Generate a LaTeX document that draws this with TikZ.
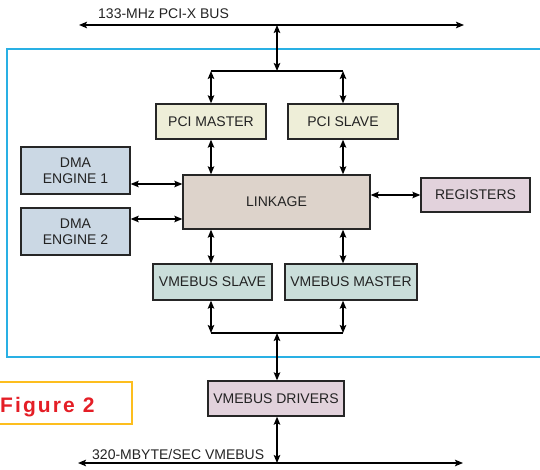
\documentclass[tikz,border=0pt]{standalone}
\usepackage{fontspec}
\setmainfont{Liberation Sans}
\usetikzlibrary{arrows.meta}
\definecolor{framecyan}{RGB}{41,176,228}
\definecolor{figorange}{RGB}{253,190,30}
\definecolor{figred}{RGB}{228,30,38}
\definecolor{pcifill}{RGB}{238,238,216}
\definecolor{dmafill}{RGB}{203,216,228}
\definecolor{linkfill}{RGB}{221,211,203}
\definecolor{regfill}{RGB}{226,210,220}
\definecolor{vmefill}{RGB}{202,222,218}
\definecolor{textgray}{RGB}{35,35,35}

\begin{document}
\begin{tikzpicture}[x=1pt,y=-1pt,
    blk/.style={draw=black!85, line width=1.3pt, text=textgray, inner sep=0pt,
      align=center, font=\fontsize{14}{16}\selectfont},
    link/.style={line width=1.4pt,
      {Stealth[length=8pt,width=6.5pt,inset=1.5pt]}-{Stealth[length=8pt,width=6.5pt,inset=1.5pt]}},
    lbl/.style={font=\fontsize{14}{16}\selectfont, text=textgray, inner sep=0pt}]
  \useasboundingbox (0,0) rectangle (540,470);
  % chip outline, runs off the right edge
  \draw[framecyan, line width=1.6pt] (7,49) rectangle (560,357);

  % blocks: centre, width x height in px
  \node[blk, fill=pcifill, minimum width=110pt, minimum height=35pt] (pcim) at (211,121.5) {PCI MASTER};
  \node[blk, fill=pcifill, minimum width=110pt, minimum height=35pt] (pcis) at (343,121.5) {PCI SLAVE};
  \node[blk, fill=dmafill, minimum width=109pt, minimum height=47pt] (dma1) at (75.5,170.5) {DMA\\ENGINE 1};
  \node[blk, fill=dmafill, minimum width=109pt, minimum height=47pt] (dma2) at (75.5,231.5) {DMA\\ENGINE 2};
  \node[blk, fill=linkfill, minimum width=187pt, minimum height=54pt] (link) at (276.5,202) {LINKAGE};
  \node[blk, fill=regfill, minimum width=109pt, minimum height=34pt] (regs) at (475.5,195) {REGISTERS};
  \node[blk, fill=vmefill, minimum width=119pt, minimum height=36pt] (vslave) at (212.5,282) {VMEBUS SLAVE};
  \node[blk, fill=vmefill, minimum width=132pt, minimum height=36pt] (vmaster) at (351,282) {VMEBUS MASTER};
  \node[blk, fill=regfill, minimum width=136pt, minimum height=35pt] (drivers) at (276,398.5) {VMEBUS DRIVERS};

  % PCI-X bus on top
  \coordinate (pciL) at (79,25);
  \coordinate (pciR) at (464,25);
  \coordinate (tap) at (277,25);
  \coordinate (split) at (277,71);
  \draw[link] (pciL) -- (pciR);
  \node[lbl, anchor=base west] (pcilbl) at (98,19) {133-MHz PCI-X BUS};
  \draw[link] (tap) -- (split);
  \draw[line width=1.4pt] (split -| pcim) -- (split -| pcis);
  \draw[link] (split -| pcim) -- (pcim.north);
  \draw[link] (split -| pcis) -- (pcis.north);
  \draw[link] (pcim.south) -- (pcim.south |- link.north);
  \draw[link] (pcis.south) -- (pcis.south |- link.north);

  % side blocks
  \draw[link] ([yshift=-13.5pt]dma1.east) -- ([yshift=-13.5pt]dma1.east -| link.west);
  \draw[link] ([yshift=12.5pt]dma2.east) -- ([yshift=12.5pt]dma2.east -| link.west);
  \draw[link] (regs.west) -- (regs.west -| link.east);

  % VMEbus side
  \coordinate (merge) at (277,333);
  \draw[link] (link.south -| pcim) -- (vslave.north -| pcim);
  \draw[link] (link.south -| pcis) -- (vmaster.north -| pcis);
  \draw[link] (vslave.south -| pcim) -- (merge -| pcim);
  \draw[link] (vmaster.south -| pcis) -- (merge -| pcis);
  \draw[line width=1.4pt] (merge -| pcim) -- (merge -| pcis);
  \draw[link] (merge) -- (merge |- drivers.north);

  \coordinate (vmeL) at (78,463);
  \coordinate (vmeR) at (463,463);
  \draw[link] (drivers.south -| merge) -- (vmeL -| merge);
  \draw[-{Stealth[length=8pt,width=6.5pt,inset=1.5pt]}, line width=1.4pt] (vmeL -| merge) -- (vmeR);
  \draw[-{Stealth[length=8pt,width=6.5pt,inset=1.5pt]}, line width=1.4pt] (vmeL -| merge) -- (vmeL);
  \node[lbl, anchor=base west] (vmelbl) at (92,459) {320-MBYTE/SEC VMEBUS};

  % caption tag
  \draw[figorange, line width=2pt] (-5,382) rectangle (132,424);
  \node[anchor=base west, inner sep=0pt, text=figred,
    font=\fontsize{21}{24}\bfseries\addfontfeature{LetterSpace=10}] (figtag) at (0,412.5) {Figure 2};
\end{tikzpicture}
\end{document}
